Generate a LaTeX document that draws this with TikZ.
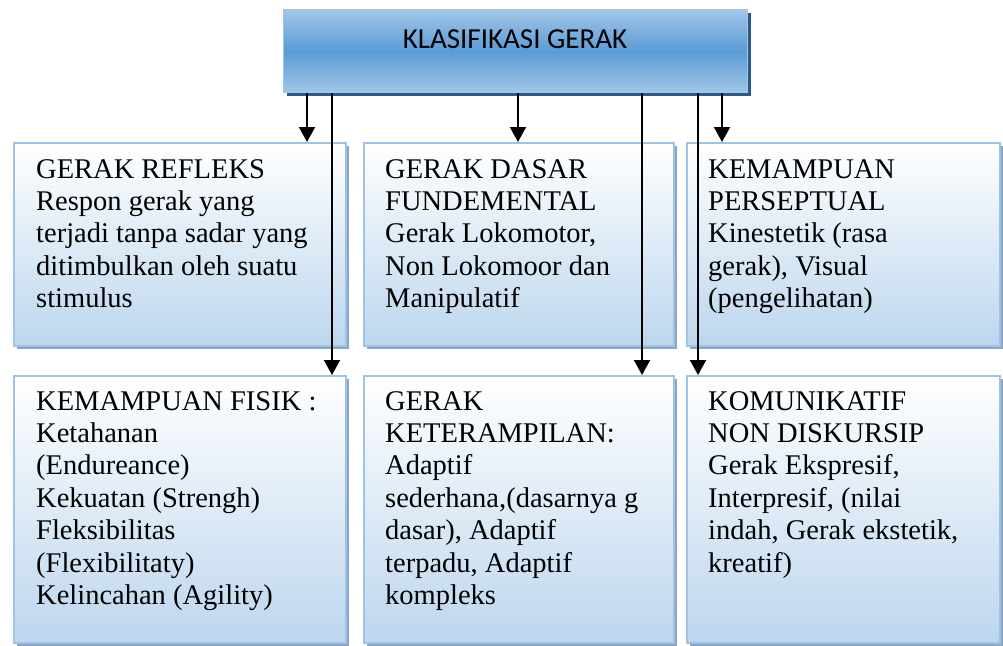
\documentclass[tikz,border=0pt]{standalone}
\usepackage{fontspec}
\setmainfont{Liberation Serif}
\newfontfamily\headfont{Carlito}
\usetikzlibrary{arrows.meta,shadows}

\definecolor{boxline}{HTML}{9DC3E6}
\definecolor{boxlow}{HTML}{BDD6EE}
\definecolor{boxshadow}{HTML}{8DA5C4}
\definecolor{headmid}{HTML}{5B9BD5}
\definecolor{headedge}{HTML}{A2C6E8}
\definecolor{headshadow}{HTML}{2A5A8C}

\tikzset{
  x=1pt, y=-1pt,
  headbox/.style={draw=headedge, line width=1.2pt, inner sep=0pt, anchor=north west,
    top color=headedge, bottom color=headedge, middle color=headmid,
    drop shadow={shadow xshift=3.5pt, shadow yshift=-3.5pt, fill=headshadow, opacity=1}},
  itembox/.style={draw=boxline, line width=1.5pt, inner sep=0pt, anchor=north west,
    top color=white, bottom color=boxlow,
    drop shadow={shadow xshift=3pt, shadow yshift=-3pt, fill=boxshadow, opacity=1}},
  itemtext/.style={anchor=north west, inner sep=0pt, align=left,
    font=\fontsize{28.5}{32.4}\selectfont},
  arr/.style={line width=2pt, -{Triangle[width=16pt,length=15pt]}}
}

\begin{document}
\begin{tikzpicture}
\useasboundingbox (0,0) rectangle (1003,645);

% heading
\node[headbox, minimum width=464pt, minimum height=83pt] (head) at (283,9) {};
\node[font=\headfont\fontsize{29}{32}\selectfont, inner sep=0pt, anchor=base] (headtxt)
  at (515,48) {KLASIFIKASI GERAK};

% first row
\node[itembox, minimum width=332pt, minimum height=203pt] (ra) at (13,142) {};
\node[itembox, minimum width=310pt, minimum height=203pt] (rb) at (363,142) {};
\node[itembox, minimum width=313pt, minimum height=203pt] (rc) at (686,142) {};

% second row
\node[itembox, minimum width=332pt, minimum height=267pt] (sa) at (13,375) {};
\node[itembox, minimum width=310pt, minimum height=267pt] (sb) at (363,375) {};
\node[itembox, minimum width=313pt, minimum height=267pt] (sc) at (686,375) {};

% texts
\node[itemtext] (ta) at ([xshift=23pt,yshift=-17pt]ra.north west)
  {GERAK REFLEKS\\Respon gerak yang\\terjadi tanpa sadar yang\\ditimbulkan oleh suatu\\stimulus};
\node[itemtext] (tb) at ([xshift=22pt,yshift=-17pt]rb.north west)
  {GERAK DASAR\\FUNDEMENTAL\\Gerak Lokomotor,\\Non Lokomoor dan\\Manipulatif};
\node[itemtext] (tc) at ([xshift=22pt,yshift=-17pt]rc.north west)
  {KEMAMPUAN\\PERSEPTUAL\\Kinestetik (rasa\\gerak), Visual\\(pengelihatan)};
\node[itemtext] (ua) at ([xshift=23pt,yshift=-16pt]sa.north west)
  {KEMAMPUAN FISIK :\\Ketahanan\\(Endureance)\\Kekuatan (Strengh)\\Fleksibilitas\\(Flexibilitaty)\\Kelincahan (Agility)};
\node[itemtext] (ub) at ([xshift=22pt,yshift=-16pt]sb.north west)
  {GERAK\\KETERAMPILAN:\\Adaptif\\sederhana,(dasarnya g\\dasar), Adaptif\\terpadu, Adaptif\\kompleks};
\node[itemtext] (uc) at ([xshift=22pt,yshift=-16pt]sc.north west)
  {KOMUNIKATIF\\NON DISKURSIP\\Gerak Ekspresif,\\Interpresif, (nilai\\indah, Gerak ekstetik,\\kreatif)};

% connectors
\coordinate (xa) at (307,0);
\coordinate (xA) at (332,0);
\coordinate (xb) at (518,0);
\coordinate (xB) at (642,0);
\coordinate (xC) at (698,0);
\coordinate (xc) at (722,0);
\draw[arr] (xa |- head.south) -- (xa |- ra.north);
\draw[arr] (xb |- head.south) -- (xb |- rb.north);
\draw[arr] (xc |- head.south) -- (xc |- rc.north);
\draw[arr] (xA |- head.south) -- (xA |- sa.north);
\draw[arr] (xB |- head.south) -- (xB |- sb.north);
\draw[arr] (xC |- head.south) -- (xC |- sc.north);
\end{tikzpicture}
\end{document}
